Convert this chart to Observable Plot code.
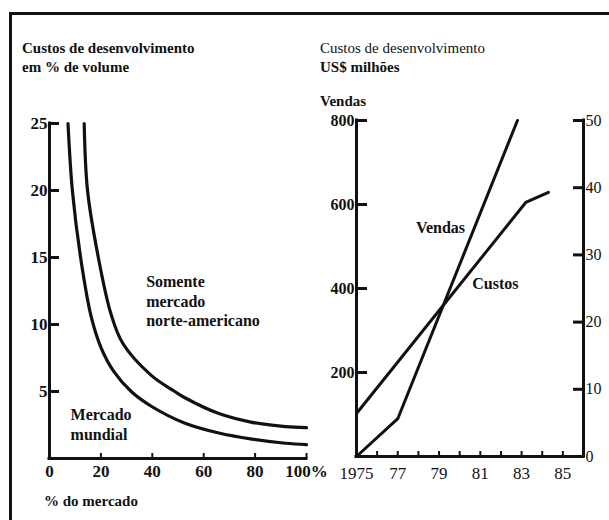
<!DOCTYPE html>
<html>
<head>
<meta charset="utf-8">
<script src="https://cdn.jsdelivr.net/npm/d3@7"></script>
<script src="https://cdn.jsdelivr.net/npm/@observablehq/plot@0.6"></script>
<style>
  html, body { margin: 0; padding: 0; background: #fff; }
  #wrap { position: relative; width: 609px; height: 520px; overflow: hidden; background: #fff; color: #111; font-family: "Liberation Serif", "DejaVu Serif", serif; }
  #frame { position: absolute; left: 9px; top: 12px; width: 620px; height: 540px; border-top: 3px solid #111; border-left: 3px solid #111; }
  .t { position: absolute; white-space: nowrap; font-size: 15px; line-height: 19px; }
  .b { font-weight: bold; }
  .plotbox { position: absolute; top: 0; }
</style>
</head>
<body>
<div id="wrap">
  <div id="frame"></div>
  <div class="t b" style="left:22px; top:39px;">Custos de desenvolvimento<br>em % de volume</div>
  <div class="t" style="left:320px; top:39px;">Custos de desenvolvimento<br><span class="b">US$ milhões</span></div>
  <div class="t b" style="left:320px; top:92px;">Vendas</div>
  <div class="t b" style="left:44px; top:492px;">% do mercado</div>
  <div id="left" class="plotbox" style="left:0px;"></div>
  <div id="right" class="plotbox" style="left:300px;"></div>
</div>
<script>
// ---- Left panel data: development cost (% of volume) vs market share (%)
const mundialX = [7.2, 8.9, 12.1, 16.2, 20, 25, 31.8, 39.6, 52.5, 65.9, 78.8, 91.8, 100];
const mundialY = [25, 20, 15, 10.6, 8.3, 6.5, 5, 3.9, 2.65, 1.9, 1.45, 1.14, 1.04];
const naX = [13.5, 14.8, 19.0, 23.9, 28.5, 39.6, 48.7, 52.5, 65.9, 78.8, 91.8, 100];
const naY = [25, 20, 15, 10.8, 8.6, 6.2, 5.0, 4.55, 3.35, 2.7, 2.38, 2.3];
const leftYTicks = [5, 10, 15, 20, 25];
const leftXLabels = [0, 20, 40, 60, 80, 100];
const leftXTicks = [20, 40, 60, 80, 100];
const leftLabels = [
  {x: 37.6, y: 11.8, text: "Somente\nmercado\nnorte-americano"},
  {x: 8.2, y: 2.6, text: "Mercado\nmundial"}
];

// ---- Right panel data: sales (US$ millions, left axis) and costs (US$ millions, right axis)
const vendasYears = [1975, 1977, 1982.8];
const vendasValues = [0, 90, 800];
const custosYears = [1975, 1983.2, 1984.3];
const custosValues = [6.4, 37.8, 39.3];
const vendasTicks = [200, 400, 600, 800];
const custosTicks = [0, 10, 20, 30, 40, 50];
const yearLabels = [1975, 1977, 1979, 1981, 1983, 1985];
const yearTicks = [1976, 1977, 1978, 1979, 1980, 1981, 1982, 1983, 1984, 1985, 1986];
const rightLabels = [
  {x: 1979.07, y: 545, text: "Vendas"},
  {x: 1981.73, y: 412, text: "Custos"}
];
const ratio = 800 / 50; // right axis (custos) to left axis (vendas)

const ink = "#111";
const baseStyle = {background: "transparent", overflow: "visible", fontFamily: "Liberation Serif, serif", color: ink};

const mundial = mundialX.map((x, i) => ({x, y: mundialY[i]}));
const na = naX.map((x, i) => ({x, y: naY[i]}));

const left = Plot.plot({
  width: 310, height: 520,
  marginLeft: 49, marginRight: 4, marginTop: 123, marginBottom: 62,
  x: {domain: [0, 100]},
  y: {domain: [0, 25]},
  style: baseStyle,
  marks: [
    Plot.ruleX([0], {y1: 0, y2: 25, stroke: ink, strokeWidth: 3, strokeLinecap: "square"}),
    Plot.ruleY([0], {x1: 0, x2: 100, stroke: ink, strokeWidth: 3, strokeLinecap: "square"}),
    Plot.axisY(leftYTicks, {anchor: "left", tickSize: -10, tickPadding: 12, strokeWidth: 3, stroke: ink, fill: ink, fontSize: 17, fontWeight: "bold", label: null}),
    Plot.axisX(leftXTicks, {anchor: "bottom", tickSize: -5, tickFormat: () => "", strokeWidth: 2, stroke: ink, label: null}),
    Plot.axisX(leftXLabels, {anchor: "bottom", tickSize: 0, tickPadding: 6, tickFormat: d => d === 100 ? "100%" : String(d), fill: ink, fontSize: 17, fontWeight: "bold", label: null}),
    Plot.line(mundial, {x: "x", y: "y", curve: "catmull-rom", stroke: ink, strokeWidth: 3.2}),
    Plot.line(na, {x: "x", y: "y", curve: "catmull-rom", stroke: ink, strokeWidth: 3.2}),
    Plot.text(leftLabels, {x: "x", y: "y", text: "text", textAnchor: "start", lineAnchor: "middle", lineHeight: 1.22, fontSize: 16, fontWeight: "bold", fill: ink})
  ]
});
document.getElementById("left").appendChild(left);

const vendas = vendasYears.map((x, i) => ({x, y: vendasValues[i]}));
const custos = custosYears.map((x, i) => ({x, y: custosValues[i]}));

const right = Plot.plot({
  width: 309, height: 520,
  marginLeft: 56, marginRight: 26, marginTop: 120, marginBottom: 64,
  x: {domain: [1975, 1986]},
  y: {domain: [0, 800]},
  style: baseStyle,
  marks: [
    Plot.ruleX([1975, 1986], {y1: 0, y2: 800, stroke: ink, strokeWidth: 3, strokeLinecap: "square"}),
    Plot.ruleY([0], {x1: 1975, x2: 1986, stroke: ink, strokeWidth: 3, strokeLinecap: "square"}),
    Plot.axisY(vendasTicks, {anchor: "left", tickSize: -11, tickPadding: 13, strokeWidth: 3, stroke: ink, fill: ink, fontSize: 16, fontWeight: "bold", label: null}),
    Plot.axisY(custosTicks.map(d => d * ratio), {anchor: "right", tickSize: -11, tickPadding: 13, tickFormat: d => String(d / ratio), strokeWidth: 3, stroke: ink, fill: ink, fontSize: 16, label: null}),
    Plot.axisX(yearTicks, {anchor: "bottom", tickSize: -5, tickFormat: () => "", strokeWidth: 2, stroke: ink, label: null}),
    Plot.axisX(yearLabels, {anchor: "bottom", tickSize: 0, tickPadding: 10, tickFormat: d => d === 1975 ? "1975" : String(d % 100), fill: ink, fontSize: 17, label: null}),
    Plot.line(vendas, {x: "x", y: "y", stroke: ink, strokeWidth: 3, strokeLinejoin: "miter"}),
    Plot.line(custos, {x: "x", y: d => d.y * ratio, stroke: ink, strokeWidth: 3, strokeLinejoin: "miter"}),
    Plot.text(rightLabels, {x: "x", y: "y", text: "text", textAnchor: "middle", fontSize: 16, fontWeight: "bold", fill: ink})
  ]
});
document.getElementById("right").appendChild(right);
</script>
</body>
</html>
